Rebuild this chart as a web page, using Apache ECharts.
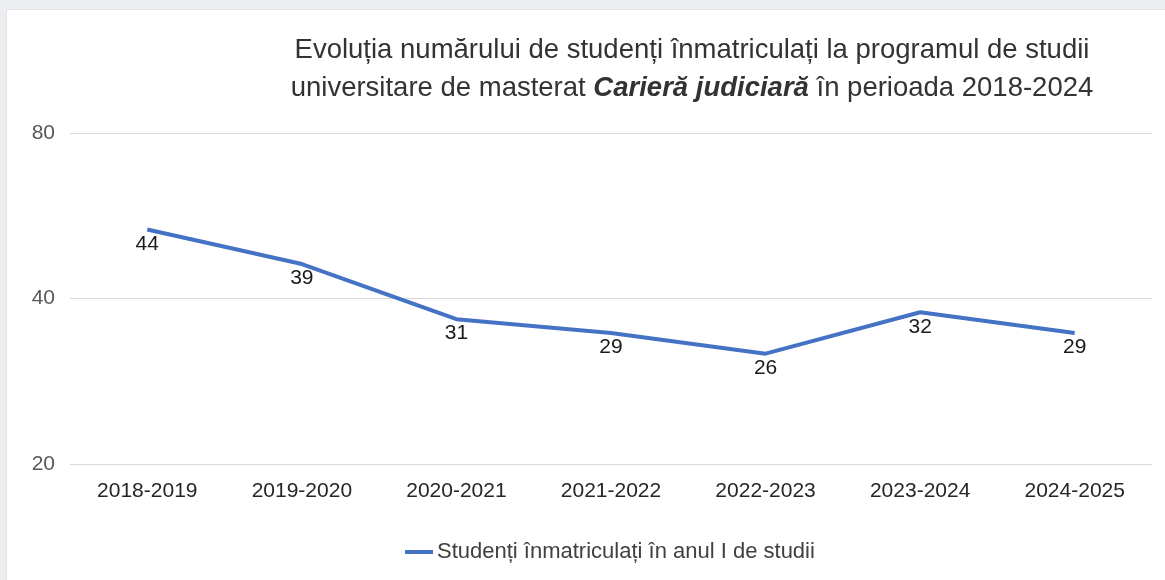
<!DOCTYPE html>
<html>
<head>
<meta charset="utf-8">
<title>Studenti inmatriculati - Cariera judiciara</title>
<script src="https://cdn.jsdelivr.net/npm/echarts@6/dist/echarts.min.js"></script>
<style>
  html, body { margin: 0; padding: 0; }
  #chart {
    width: 1165px;
    height: 580px;
    /* fundal gri sus si in stanga, ca in captura */
    background:
      linear-gradient(#eceef1, #eceef1) top left / 100% 9px no-repeat,
      linear-gradient(#eceef1, #eceef1) top left / 6px 100% no-repeat,
      linear-gradient(#e2e4e7, #e2e4e7) 6px 9px / 100% 1px no-repeat,
      linear-gradient(#e2e4e7, #e2e4e7) 6px 9px / 1px 100% no-repeat,
      #ffffff;
  }
</style>
</head>
<body>
<div id="chart"></div>
<script>
// date
const years = ['2018-2019', '2019-2020', '2020-2021', '2021-2022', '2022-2023', '2023-2024', '2024-2025']
const students = [44, 39, 31, 29, 26, 32, 29]
const yTickLabels = ['20', '40', '80']
const seriesName = 'Studenți înmatriculați în anul I de studii'

const font = '"Liberation Sans", Arial, sans-serif'
const blue = '#4472C4'

const chart = echarts.init(document.getElementById('chart'))

chart.setOption({
  textStyle: { fontFamily: font },
  title: {
    text: 'Evoluția numărului de studenți înmatriculați la programul de studii\n' +
      'universitare de masterat {b|Carieră judiciară} în perioada 2018-2024',
    left: 687,
    top: 26,
    textAlign: 'center',
    textStyle: {
      fontFamily: font,
      fontSize: 27.5,
      fontWeight: 'normal',
      color: '#333333',
      lineHeight: 38,
      rich: {
        b: {
          fontFamily: font,
          fontSize: 27.5,
          fontWeight: 'bold',
          fontStyle: 'italic',
          color: '#333333',
          lineHeight: 38
        }
      }
    }
  },
  legend: {
    left: 400,
    top: 535,
    itemWidth: 28,
    itemHeight: 4,
    itemGap: 10,
    data: [{ name: seriesName, icon: 'rect' }],
    textStyle: { fontFamily: font, fontSize: 22, color: '#404040', lineHeight: 24, padding: [0, 0, 0, -1] }
  },
  grid: {
    left: 70,
    right: 13,
    top: 133,
    bottom: 116
  },
  xAxis: {
    type: 'category',
    data: years,
    boundaryGap: true,
    axisLine: { show: false },
    axisTick: { show: false },
    axisLabel: { fontFamily: font, fontSize: 21, color: '#262626', margin: 17 }
  },
  yAxis: [{
    // axa vizibila: doar etichetele 20 / 40 / 80 si liniile de grila
    type: 'category',
    data: yTickLabels,
    boundaryGap: false,
    axisLine: { show: false },
    axisTick: { show: false },
    axisLabel: { fontFamily: font, fontSize: 21, color: '#595959', margin: 15 },
    splitLine: { show: true, lineStyle: { color: '#d9d9d9', width: 1 } }
  }, {
    // axa pe care se deseneaza seria
    type: 'value',
    show: false,
    min: 10,
    max: 58
  }],
  series: [{
    name: seriesName,
    type: 'line',
    yAxisIndex: 1,
    data: students,
    symbol: 'circle',
    symbolSize: 0,
    showSymbol: true,
    lineStyle: { color: blue, width: 4 },
    itemStyle: { color: blue },
    label: {
      show: true,
      position: 'bottom',
      distance: 4,
      fontFamily: font,
      fontSize: 21,
      color: '#1a1a1a'
    },
    animation: false
  }]
})
</script>
</body>
</html>
